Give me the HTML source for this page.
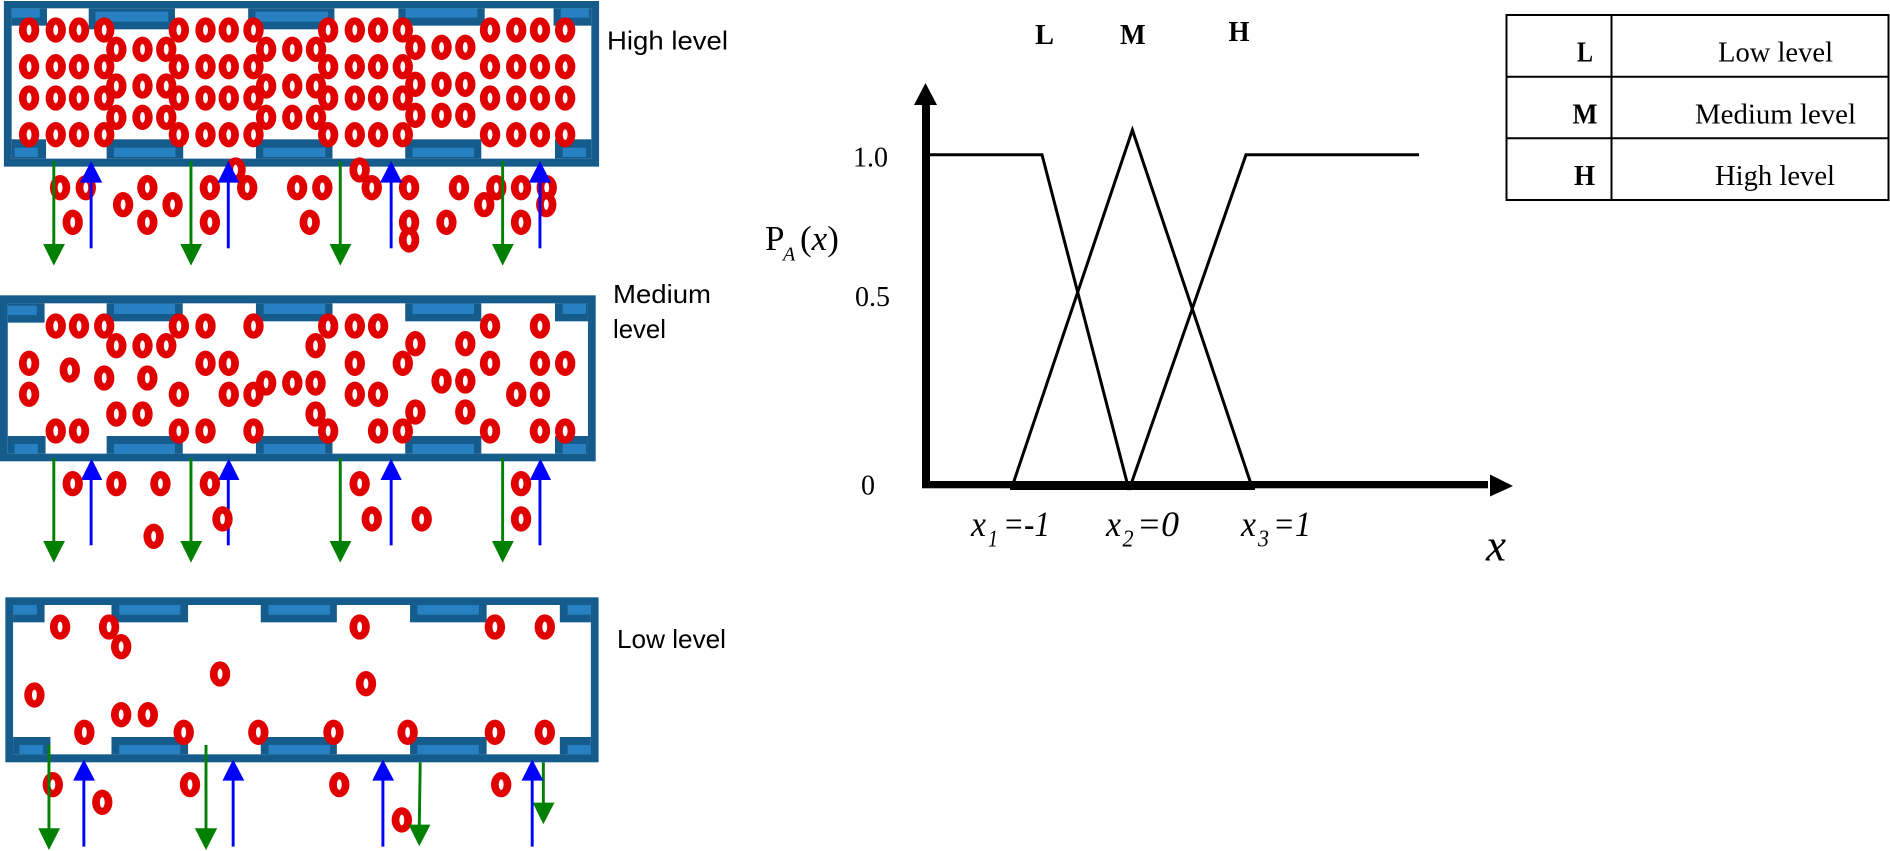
<!DOCTYPE html>
<html>
<head>
<meta charset="utf-8">
<style>
html,body{margin:0;padding:0;background:#fff;}
svg{display:block;}
.s{font-family:"Liberation Sans",sans-serif;font-size:26px;fill:#000;}
.t{font-family:"Liberation Serif",serif;fill:#000;}
.b{font-weight:bold;font-size:29px;}
.n{font-size:29px;}
.i{font-style:italic;font-size:36px;}
.u{font-style:italic;font-size:24px;}
.d{fill:#155c8d;}
.a{fill:#2680c2;}
.g{fill:#008000;}
.l{fill:#0000ff;}
</style>
</head>
<body>
<svg width="1890" height="851" viewBox="0 0 1890 851" xmlns="http://www.w3.org/2000/svg">
<defs>
<g id="c"><ellipse rx="21" ry="38" fill="#e10000"/><ellipse rx="5" ry="16" fill="#fff"/></g>
</defs>
<rect width="1890" height="851" fill="#fff"/>

<!-- Panel 1 -->
<g transform="scale(0.4847 0.3333)">
<rect class="d" x="8" y="3" width="1228" height="497"/>
<rect fill="#fff" x="24" y="25" width="1196" height="451"/>
<rect class="d" x="24" y="25" width="73" height="52"/>
<rect class="d" x="183" y="25" width="178" height="63"/>
<rect class="d" x="512" y="25" width="178" height="63"/>
<rect class="d" x="822" y="25" width="178" height="52"/>
<rect class="d" x="1142" y="25" width="78" height="52"/>
<rect class="d" x="24" y="418" width="71" height="58"/>
<rect class="d" x="220" y="418" width="158" height="58"/>
<rect class="d" x="528" y="418" width="158" height="58"/>
<rect class="d" x="836" y="418" width="157" height="58"/>
<rect class="d" x="1145" y="418" width="75" height="58"/>
<rect class="a" x="24" y="25" width="58" height="28"/>
<rect class="a" x="197" y="35" width="150" height="30"/>
<rect class="a" x="527" y="35" width="150" height="30"/>
<rect class="a" x="837" y="25" width="148" height="28"/>
<rect class="a" x="1157" y="25" width="58" height="28"/>
<rect class="a" x="30" y="443" width="48" height="28"/>
<rect class="a" x="235" y="443" width="127" height="28"/>
<rect class="a" x="543" y="443" width="128" height="28"/>
<rect class="a" x="851" y="443" width="127" height="28"/>
<rect class="a" x="1161" y="443" width="48" height="28"/>

<use href="#c" x="60" y="90"/><use href="#c" x="115" y="90"/><use href="#c" x="163" y="90"/><use href="#c" x="215" y="90"/><use href="#c" x="369" y="90"/><use href="#c" x="424" y="90"/><use href="#c" x="472" y="90"/><use href="#c" x="523" y="90"/><use href="#c" x="677" y="90"/><use href="#c" x="732" y="90"/><use href="#c" x="780" y="90"/><use href="#c" x="831" y="90"/><use href="#c" x="1011" y="90"/><use href="#c" x="1065" y="90"/><use href="#c" x="1114" y="90"/><use href="#c" x="1166" y="90"/>
<use href="#c" x="60" y="200"/><use href="#c" x="115" y="200"/><use href="#c" x="163" y="200"/><use href="#c" x="215" y="200"/><use href="#c" x="369" y="200"/><use href="#c" x="424" y="200"/><use href="#c" x="472" y="200"/><use href="#c" x="523" y="200"/><use href="#c" x="677" y="200"/><use href="#c" x="732" y="200"/><use href="#c" x="780" y="200"/><use href="#c" x="831" y="200"/><use href="#c" x="1011" y="200"/><use href="#c" x="1065" y="200"/><use href="#c" x="1114" y="200"/><use href="#c" x="1166" y="200"/>
<use href="#c" x="60" y="294"/><use href="#c" x="115" y="294"/><use href="#c" x="163" y="294"/><use href="#c" x="215" y="294"/><use href="#c" x="369" y="294"/><use href="#c" x="424" y="294"/><use href="#c" x="472" y="294"/><use href="#c" x="523" y="294"/><use href="#c" x="677" y="294"/><use href="#c" x="732" y="294"/><use href="#c" x="780" y="294"/><use href="#c" x="831" y="294"/><use href="#c" x="1011" y="294"/><use href="#c" x="1065" y="294"/><use href="#c" x="1114" y="294"/><use href="#c" x="1166" y="294"/>
<use href="#c" x="60" y="404"/><use href="#c" x="115" y="404"/><use href="#c" x="163" y="404"/><use href="#c" x="215" y="404"/><use href="#c" x="369" y="404"/><use href="#c" x="424" y="404"/><use href="#c" x="472" y="404"/><use href="#c" x="523" y="404"/><use href="#c" x="677" y="404"/><use href="#c" x="732" y="404"/><use href="#c" x="780" y="404"/><use href="#c" x="831" y="404"/><use href="#c" x="1011" y="404"/><use href="#c" x="1065" y="404"/><use href="#c" x="1114" y="404"/><use href="#c" x="1166" y="404"/>
<use href="#c" x="240" y="148"/><use href="#c" x="294" y="148"/><use href="#c" x="343" y="148"/><use href="#c" x="549" y="148"/><use href="#c" x="603" y="148"/><use href="#c" x="652" y="148"/>
<use href="#c" x="240" y="258"/><use href="#c" x="294" y="258"/><use href="#c" x="343" y="258"/><use href="#c" x="549" y="258"/><use href="#c" x="603" y="258"/><use href="#c" x="652" y="258"/>
<use href="#c" x="240" y="352"/><use href="#c" x="294" y="352"/><use href="#c" x="343" y="352"/><use href="#c" x="549" y="352"/><use href="#c" x="603" y="352"/><use href="#c" x="652" y="352"/>
<use href="#c" x="857" y="142"/><use href="#c" x="911" y="142"/><use href="#c" x="960" y="142"/>
<use href="#c" x="857" y="253"/><use href="#c" x="911" y="253"/><use href="#c" x="960" y="253"/>
<use href="#c" x="857" y="346"/><use href="#c" x="911" y="346"/><use href="#c" x="960" y="346"/>
<use href="#c" x="486" y="510"/><use href="#c" x="742" y="510"/>
<use href="#c" x="124" y="563"/><use href="#c" x="177" y="563"/><use href="#c" x="304" y="563"/><use href="#c" x="433" y="563"/><use href="#c" x="510" y="563"/><use href="#c" x="613" y="563"/><use href="#c" x="665" y="563"/><use href="#c" x="767" y="563"/><use href="#c" x="844" y="563"/><use href="#c" x="947" y="563"/><use href="#c" x="1024" y="563"/><use href="#c" x="1075" y="563"/><use href="#c" x="1128" y="563"/>
<use href="#c" x="254" y="614"/><use href="#c" x="356" y="614"/><use href="#c" x="999" y="614"/><use href="#c" x="1127" y="614"/>
<use href="#c" x="150" y="667"/><use href="#c" x="304" y="667"/><use href="#c" x="433" y="667"/><use href="#c" x="639" y="667"/><use href="#c" x="844" y="667"/><use href="#c" x="921" y="667"/><use href="#c" x="1075" y="667"/>
<use href="#c" x="844" y="720"/>

<rect class="g" x="108" y="483" width="6" height="255"/><polygon class="g" points="89,732 134,732 111,797"/>
<rect class="g" x="391" y="483" width="6" height="255"/><polygon class="g" points="372,732 417,732 394,797"/>
<rect class="g" x="699" y="483" width="6" height="255"/><polygon class="g" points="680,732 725,732 702,797"/>
<rect class="g" x="1034" y="483" width="6" height="255"/><polygon class="g" points="1015,732 1060,732 1037,797"/>
<rect class="l" x="185" y="540" width="6" height="205"/><polygon class="l" points="165,548 211,548 188,483"/>
<rect class="l" x="468" y="540" width="6" height="205"/><polygon class="l" points="449,548 494,548 471,483"/>
<rect class="l" x="804" y="540" width="6" height="205"/><polygon class="l" points="784,548 830,548 807,483"/>
<rect class="l" x="1111" y="540" width="6" height="205"/><polygon class="l" points="1091,548 1137,548 1114,483"/>
</g>

<!-- Panel 2 -->
<g transform="translate(0 285) scale(0.4847 0.3333)">
<rect class="d" x="0" y="31" width="1229" height="498"/>
<rect fill="#fff" x="16" y="55" width="1197" height="451"/>
<rect class="d" x="16" y="55" width="76" height="58"/>
<rect class="d" x="220" y="55" width="157" height="54"/>
<rect class="d" x="528" y="55" width="158" height="54"/>
<rect class="d" x="836" y="55" width="157" height="54"/>
<rect class="d" x="1145" y="55" width="68" height="54"/>
<rect class="d" x="16" y="453" width="78" height="53"/>
<rect class="d" x="220" y="453" width="157" height="53"/>
<rect class="d" x="528" y="453" width="158" height="53"/>
<rect class="d" x="836" y="453" width="157" height="53"/>
<rect class="d" x="1145" y="453" width="68" height="53"/>
<rect class="a" x="16" y="62" width="60" height="28"/>
<rect class="a" x="235" y="57" width="126" height="30"/>
<rect class="a" x="544" y="57" width="127" height="30"/>
<rect class="a" x="851" y="57" width="127" height="30"/>
<rect class="a" x="1161" y="57" width="48" height="30"/>
<rect class="a" x="30" y="477" width="48" height="29"/>
<rect class="a" x="235" y="477" width="126" height="29"/>
<rect class="a" x="544" y="477" width="127" height="29"/>
<rect class="a" x="851" y="477" width="127" height="29"/>
<rect class="a" x="1161" y="477" width="48" height="29"/>

<use href="#c" x="115" y="123"/><use href="#c" x="163" y="123"/><use href="#c" x="215" y="123"/><use href="#c" x="369" y="123"/><use href="#c" x="424" y="123"/><use href="#c" x="523" y="123"/><use href="#c" x="677" y="123"/><use href="#c" x="732" y="123"/><use href="#c" x="780" y="123"/><use href="#c" x="1011" y="123"/><use href="#c" x="1114" y="123"/>
<use href="#c" x="240" y="182"/><use href="#c" x="294" y="182"/><use href="#c" x="343" y="182"/><use href="#c" x="651" y="182"/><use href="#c" x="857" y="176"/><use href="#c" x="960" y="176"/>
<use href="#c" x="60" y="235"/><use href="#c" x="424" y="235"/><use href="#c" x="472" y="235"/><use href="#c" x="732" y="235"/><use href="#c" x="831" y="235"/><use href="#c" x="1011" y="235"/><use href="#c" x="1114" y="235"/><use href="#c" x="1166" y="235"/>
<use href="#c" x="144" y="255"/><use href="#c" x="215" y="279"/><use href="#c" x="304" y="279"/>
<use href="#c" x="60" y="328"/><use href="#c" x="369" y="328"/><use href="#c" x="472" y="328"/><use href="#c" x="523" y="328"/><use href="#c" x="732" y="328"/><use href="#c" x="780" y="328"/><use href="#c" x="1065" y="328"/><use href="#c" x="1114" y="328"/>
<use href="#c" x="549" y="294"/><use href="#c" x="603" y="294"/><use href="#c" x="651" y="294"/><use href="#c" x="911" y="288"/><use href="#c" x="960" y="288"/>
<use href="#c" x="240" y="387"/><use href="#c" x="294" y="387"/><use href="#c" x="651" y="387"/><use href="#c" x="857" y="381"/><use href="#c" x="960" y="381"/>
<use href="#c" x="115" y="438"/><use href="#c" x="163" y="438"/><use href="#c" x="369" y="438"/><use href="#c" x="424" y="438"/><use href="#c" x="523" y="438"/><use href="#c" x="677" y="438"/><use href="#c" x="780" y="438"/><use href="#c" x="831" y="438"/><use href="#c" x="1011" y="438"/><use href="#c" x="1114" y="438"/><use href="#c" x="1166" y="438"/>

<rect class="g" x="108" y="519" width="6" height="255"/><polygon class="g" points="89,768 134,768 111,833"/>
<rect class="g" x="391" y="519" width="6" height="255"/><polygon class="g" points="372,768 417,768 394,833"/>
<rect class="g" x="699" y="519" width="6" height="255"/><polygon class="g" points="680,768 725,768 702,833"/>
<rect class="g" x="1034" y="519" width="6" height="255"/><polygon class="g" points="1015,768 1060,768 1037,833"/>
<rect class="l" x="185" y="575" width="6" height="206"/><polygon class="l" points="167,585 211,585 189,521"/>
<rect class="l" x="468" y="575" width="6" height="206"/><polygon class="l" points="450,585 494,585 472,521"/>
<rect class="l" x="804" y="575" width="6" height="206"/><polygon class="l" points="785,585 829,585 807,521"/>
<rect class="l" x="1111" y="575" width="6" height="206"/><polygon class="l" points="1093,585 1137,585 1115,521"/>
<use href="#c" x="150" y="596"/><use href="#c" x="240" y="596"/><use href="#c" x="331" y="596"/><use href="#c" x="433" y="596"/><use href="#c" x="742" y="596"/><use href="#c" x="1075" y="596"/>
<use href="#c" x="459" y="702"/><use href="#c" x="767" y="702"/><use href="#c" x="870" y="702"/><use href="#c" x="1075" y="702"/>
<use href="#c" x="317" y="754"/>
</g>

<!-- Panel 3 -->
<g transform="translate(0 580) scale(0.4847 0.3333)">
<rect class="d" x="11" y="52" width="1224" height="495"/>
<rect fill="#fff" x="27" y="75" width="1192" height="448"/>
<rect class="d" x="27" y="75" width="65" height="52"/>
<rect class="d" x="230" y="75" width="158" height="52"/>
<rect class="d" x="538" y="75" width="157" height="52"/>
<rect class="d" x="846" y="75" width="158" height="52"/>
<rect class="d" x="1155" y="75" width="64" height="52"/>
<rect class="d" x="27" y="471" width="77" height="52"/>
<rect class="d" x="230" y="471" width="158" height="52"/>
<rect class="d" x="538" y="471" width="157" height="52"/>
<rect class="d" x="846" y="471" width="158" height="52"/>
<rect class="d" x="1155" y="471" width="64" height="52"/>
<rect class="a" x="27" y="75" width="49" height="29"/>
<rect class="a" x="246" y="75" width="126" height="29"/>
<rect class="a" x="554" y="75" width="127" height="29"/>
<rect class="a" x="861" y="75" width="127" height="29"/>
<rect class="a" x="1171" y="75" width="48" height="29"/>
<rect class="a" x="40" y="495" width="49" height="28"/>
<rect class="a" x="246" y="495" width="126" height="28"/>
<rect class="a" x="554" y="495" width="127" height="28"/>
<rect class="a" x="861" y="495" width="127" height="28"/>
<rect class="a" x="1171" y="495" width="48" height="28"/>

<use href="#c" x="124" y="141"/><use href="#c" x="225" y="141"/><use href="#c" x="742" y="141"/><use href="#c" x="1021" y="141"/><use href="#c" x="1124" y="141"/>
<use href="#c" x="250" y="200"/><use href="#c" x="454" y="282"/><use href="#c" x="755" y="311"/><use href="#c" x="71" y="345"/>
<use href="#c" x="250" y="404"/><use href="#c" x="305" y="404"/>
<use href="#c" x="174" y="457"/><use href="#c" x="379" y="457"/><use href="#c" x="533" y="457"/><use href="#c" x="688" y="457"/><use href="#c" x="841" y="457"/><use href="#c" x="1021" y="457"/><use href="#c" x="1124" y="457"/>
<use href="#c" x="109" y="614"/><use href="#c" x="392" y="614"/><use href="#c" x="700" y="614"/><use href="#c" x="1034" y="614"/>
<use href="#c" x="211" y="667"/><use href="#c" x="829" y="720"/>

<rect class="g" x="98" y="495" width="6" height="255"/><polygon class="g" points="79,745 124,745 101,810"/>
<rect class="g" x="422" y="495" width="6" height="255"/><polygon class="g" points="402,745 448,745 425,810"/>
<polygon class="g" points="864,547 870,547 868,738 862,738"/><polygon class="g" points="843,734 888,734 865,799"/>
<rect class="g" x="1118" y="547" width="6" height="125"/><polygon class="g" points="1099,668 1144,668 1121,733"/>
<rect class="l" x="170" y="595" width="6" height="205"/><polygon class="l" points="151,602 196,602 173,538"/>
<rect class="l" x="478" y="595" width="6" height="205"/><polygon class="l" points="459,602 504,602 481,538"/>
<rect class="l" x="787" y="595" width="6" height="205"/><polygon class="l" points="768,602 813,602 790,538"/>
<rect class="l" x="1095" y="595" width="6" height="205"/><polygon class="l" points="1076,602 1121,602 1098,538"/>
</g>

<!-- Left labels -->
<text class="s" x="607" y="49.5" textLength="121" lengthAdjust="spacingAndGlyphs">High level</text>
<text class="s" x="613" y="303" textLength="98" lengthAdjust="spacingAndGlyphs">Medium</text>
<text class="s" x="613" y="338" textLength="53" lengthAdjust="spacingAndGlyphs">level</text>
<text class="s" x="617" y="648" textLength="109" lengthAdjust="spacingAndGlyphs">Low level</text>

<!-- Chart -->
<g fill="none" stroke="#000" stroke-width="3" stroke-linejoin="miter">
<polyline points="929,154.7 1042,154.7 1129,490"/>
<polyline points="1013,484 1132.4,130 1251,484"/>
<polyline points="1129,490 1246,154.7 1419,154.7"/>
</g>
<rect x="922" y="98" width="8" height="390" fill="#000"/>
<polygon points="925.5,83 914,105 937,105" fill="#000"/>
<rect x="922" y="481" width="566" height="7.3" fill="#000"/>
<rect x="1010" y="482" width="245" height="8" fill="#000"/>
<polygon points="1513,486 1490,474.5 1490,496.5" fill="#000"/>

<text class="t b" x="1035" y="44" textLength="19" lengthAdjust="spacingAndGlyphs">L</text>
<text class="t b" x="1120" y="44" textLength="25.6" lengthAdjust="spacingAndGlyphs">M</text>
<text class="t b" x="1228.5" y="41" textLength="21" lengthAdjust="spacingAndGlyphs">H</text>

<text class="t" font-size="28" x="853" y="166.5">1.0</text>
<text class="t" font-size="28" x="855" y="306">0.5</text>
<text class="t" font-size="28" x="861" y="494.5">0</text>

<text class="t" font-size="35" x="765" y="250">P</text>
<text class="t" font-style="italic" font-size="20" x="783" y="260.7">A</text>
<text class="t" font-size="35" x="800" y="250">(<tspan font-style="italic">x</tspan>)</text>

<text class="t i" x="971" y="536" textLength="15" lengthAdjust="spacingAndGlyphs">x</text>
<text class="t u" x="988" y="546.5" textLength="10" lengthAdjust="spacingAndGlyphs">1</text>
<text class="t i" x="1003" y="536" textLength="47" lengthAdjust="spacingAndGlyphs">=-1</text>
<text class="t i" x="1106" y="536" textLength="15" lengthAdjust="spacingAndGlyphs">x</text>
<text class="t u" x="1122.5" y="546.5" textLength="11" lengthAdjust="spacingAndGlyphs">2</text>
<text class="t i" x="1137" y="536" textLength="42" lengthAdjust="spacingAndGlyphs">=0</text>
<text class="t i" x="1241" y="536" textLength="15" lengthAdjust="spacingAndGlyphs">x</text>
<text class="t u" x="1258" y="546.5" textLength="11" lengthAdjust="spacingAndGlyphs">3</text>
<text class="t i" x="1273" y="536" textLength="38" lengthAdjust="spacingAndGlyphs">=1</text>
<text class="t" font-style="italic" font-size="46" x="1486" y="560.5" textLength="20" lengthAdjust="spacingAndGlyphs">x</text>

<!-- Table -->
<g fill="none" stroke="#000" stroke-width="2">
<rect x="1506.5" y="15" width="382" height="185"/>
<line x1="1506.5" y1="76.7" x2="1888.5" y2="76.7"/>
<line x1="1506.5" y1="138.3" x2="1888.5" y2="138.3"/>
<line x1="1611.5" y1="15" x2="1611.5" y2="200"/>
</g>
<text class="t b" x="1577" y="61.7" textLength="16" lengthAdjust="spacingAndGlyphs">L</text>
<text class="t b" x="1572.5" y="123.3" textLength="25" lengthAdjust="spacingAndGlyphs">M</text>
<text class="t b" x="1574" y="185" textLength="21" lengthAdjust="spacingAndGlyphs">H</text>
<text class="t n" x="1718" y="61.7" textLength="115" lengthAdjust="spacingAndGlyphs">Low level</text>
<text class="t n" x="1695" y="123.3" textLength="161" lengthAdjust="spacingAndGlyphs">Medium level</text>
<text class="t n" x="1715" y="185" textLength="120" lengthAdjust="spacingAndGlyphs">High level</text>
</svg>
</body>
</html>
